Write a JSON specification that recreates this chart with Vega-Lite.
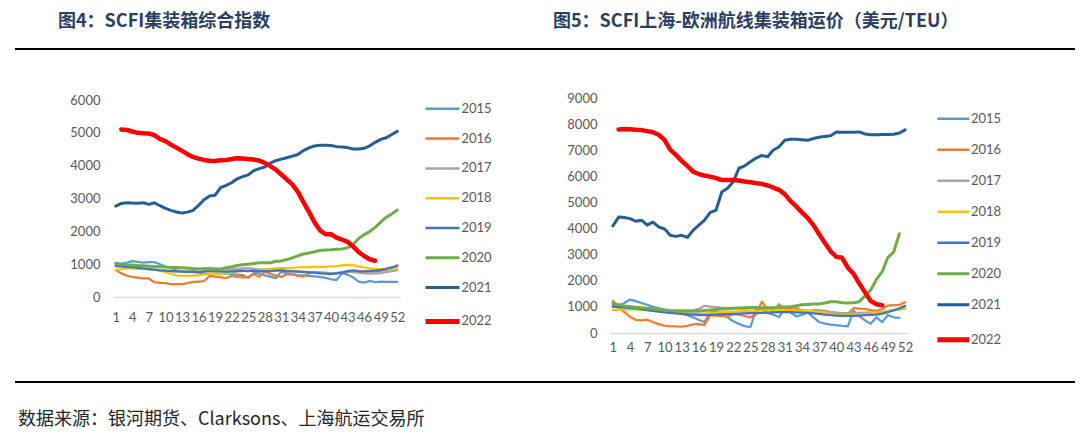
{
"$schema": "https://vega.github.io/schema/vega-lite/v6.json",
"autosize": "none",
"padding": {"left": 15, "top": 48, "right": 1065, "bottom": 386},
"background": "white",
"bounds": "flush",
"columns": 4,
"spacing": {"row": 48, "column": 0},
"config": {"view": {"stroke": null}, "font": "Lato"},
"datasets": {
"scfi": [
{"s":"2015","w":1,"v":1005},{"s":"2015","w":2,"v":1020},{"s":"2015","w":3,"v":1045},{"s":"2015","w":4,"v":1095},{"s":"2015","w":5,"v":1070},{"s":"2015","w":6,"v":1050},{"s":"2015","w":7,"v":1065},{"s":"2015","w":8,"v":1060},{"s":"2015","w":9,"v":1000},{"s":"2015","w":10,"v":930},{"s":"2015","w":11,"v":880},{"s":"2015","w":12,"v":810},{"s":"2015","w":13,"v":790},{"s":"2015","w":14,"v":775},{"s":"2015","w":15,"v":760},{"s":"2015","w":16,"v":740},{"s":"2015","w":17,"v":725},{"s":"2015","w":18,"v":720},{"s":"2015","w":19,"v":720},{"s":"2015","w":20,"v":715},{"s":"2015","w":21,"v":720},{"s":"2015","w":22,"v":700},{"s":"2015","w":23,"v":680},{"s":"2015","w":24,"v":670},{"s":"2015","w":25,"v":580},{"s":"2015","w":26,"v":740},{"s":"2015","w":27,"v":720},{"s":"2015","w":28,"v":660},{"s":"2015","w":29,"v":620},{"s":"2015","w":30,"v":570},{"s":"2015","w":31,"v":770},{"s":"2015","w":32,"v":730},{"s":"2015","w":33,"v":700},{"s":"2015","w":34,"v":670},{"s":"2015","w":35,"v":660},{"s":"2015","w":36,"v":640},{"s":"2015","w":37,"v":630},{"s":"2015","w":38,"v":610},{"s":"2015","w":39,"v":580},{"s":"2015","w":40,"v":540},{"s":"2015","w":41,"v":520},{"s":"2015","w":42,"v":720},{"s":"2015","w":43,"v":680},{"s":"2015","w":44,"v":600},{"s":"2015","w":45,"v":470},{"s":"2015","w":46,"v":440},{"s":"2015","w":47,"v":490},{"s":"2015","w":48,"v":450},{"s":"2015","w":49,"v":470},{"s":"2015","w":50,"v":460},{"s":"2015","w":51,"v":460},{"s":"2015","w":52,"v":460},
{"s":"2016","w":1,"v":820},{"s":"2016","w":2,"v":720},{"s":"2016","w":3,"v":650},{"s":"2016","w":4,"v":610},{"s":"2016","w":5,"v":590},{"s":"2016","w":6,"v":570},{"s":"2016","w":7,"v":565},{"s":"2016","w":8,"v":450},{"s":"2016","w":9,"v":430},{"s":"2016","w":10,"v":420},{"s":"2016","w":11,"v":395},{"s":"2016","w":12,"v":390},{"s":"2016","w":13,"v":395},{"s":"2016","w":14,"v":420},{"s":"2016","w":15,"v":460},{"s":"2016","w":16,"v":470},{"s":"2016","w":17,"v":480},{"s":"2016","w":18,"v":640},{"s":"2016","w":19,"v":620},{"s":"2016","w":20,"v":600},{"s":"2016","w":21,"v":575},{"s":"2016","w":22,"v":640},{"s":"2016","w":23,"v":610},{"s":"2016","w":24,"v":600},{"s":"2016","w":25,"v":610},{"s":"2016","w":26,"v":700},{"s":"2016","w":27,"v":620},{"s":"2016","w":28,"v":770},{"s":"2016","w":29,"v":700},{"s":"2016","w":30,"v":650},{"s":"2016","w":31,"v":610},{"s":"2016","w":32,"v":700},{"s":"2016","w":33,"v":690},{"s":"2016","w":34,"v":640},{"s":"2016","w":35,"v":620},{"s":"2016","w":36,"v":720},{"s":"2016","w":37,"v":760},{"s":"2016","w":38,"v":740},{"s":"2016","w":39,"v":730},{"s":"2016","w":40,"v":720},{"s":"2016","w":41,"v":730},{"s":"2016","w":42,"v":750},{"s":"2016","w":43,"v":760},{"s":"2016","w":44,"v":790},{"s":"2016","w":45,"v":780},{"s":"2016","w":46,"v":770},{"s":"2016","w":47,"v":790},{"s":"2016","w":48,"v":780},{"s":"2016","w":49,"v":800},{"s":"2016","w":50,"v":820},{"s":"2016","w":51,"v":870},{"s":"2016","w":52,"v":930},
{"s":"2017","w":1,"v":960},{"s":"2017","w":2,"v":940},{"s":"2017","w":3,"v":930},{"s":"2017","w":4,"v":900},{"s":"2017","w":5,"v":880},{"s":"2017","w":6,"v":860},{"s":"2017","w":7,"v":850},{"s":"2017","w":8,"v":840},{"s":"2017","w":9,"v":820},{"s":"2017","w":10,"v":800},{"s":"2017","w":11,"v":790},{"s":"2017","w":12,"v":780},{"s":"2017","w":13,"v":790},{"s":"2017","w":14,"v":800},{"s":"2017","w":15,"v":820},{"s":"2017","w":16,"v":840},{"s":"2017","w":17,"v":880},{"s":"2017","w":18,"v":890},{"s":"2017","w":19,"v":870},{"s":"2017","w":20,"v":860},{"s":"2017","w":21,"v":850},{"s":"2017","w":22,"v":840},{"s":"2017","w":23,"v":860},{"s":"2017","w":24,"v":870},{"s":"2017","w":25,"v":880},{"s":"2017","w":26,"v":860},{"s":"2017","w":27,"v":840},{"s":"2017","w":28,"v":850},{"s":"2017","w":29,"v":840},{"s":"2017","w":30,"v":830},{"s":"2017","w":31,"v":820},{"s":"2017","w":32,"v":800},{"s":"2017","w":33,"v":790},{"s":"2017","w":34,"v":780},{"s":"2017","w":35,"v":770},{"s":"2017","w":36,"v":760},{"s":"2017","w":37,"v":760},{"s":"2017","w":38,"v":750},{"s":"2017","w":39,"v":740},{"s":"2017","w":40,"v":730},{"s":"2017","w":41,"v":720},{"s":"2017","w":42,"v":760},{"s":"2017","w":43,"v":790},{"s":"2017","w":44,"v":760},{"s":"2017","w":45,"v":740},{"s":"2017","w":46,"v":720},{"s":"2017","w":47,"v":710},{"s":"2017","w":48,"v":720},{"s":"2017","w":49,"v":730},{"s":"2017","w":50,"v":760},{"s":"2017","w":51,"v":790},{"s":"2017","w":52,"v":820},
{"s":"2018","w":1,"v":830},{"s":"2018","w":2,"v":850},{"s":"2018","w":3,"v":870},{"s":"2018","w":4,"v":870},{"s":"2018","w":5,"v":860},{"s":"2018","w":6,"v":860},{"s":"2018","w":7,"v":850},{"s":"2018","w":8,"v":830},{"s":"2018","w":9,"v":800},{"s":"2018","w":10,"v":760},{"s":"2018","w":11,"v":700},{"s":"2018","w":12,"v":660},{"s":"2018","w":13,"v":650},{"s":"2018","w":14,"v":640},{"s":"2018","w":15,"v":650},{"s":"2018","w":16,"v":660},{"s":"2018","w":17,"v":690},{"s":"2018","w":18,"v":720},{"s":"2018","w":19,"v":710},{"s":"2018","w":20,"v":700},{"s":"2018","w":21,"v":720},{"s":"2018","w":22,"v":740},{"s":"2018","w":23,"v":770},{"s":"2018","w":24,"v":790},{"s":"2018","w":25,"v":800},{"s":"2018","w":26,"v":800},{"s":"2018","w":27,"v":820},{"s":"2018","w":28,"v":850},{"s":"2018","w":29,"v":860},{"s":"2018","w":30,"v":870},{"s":"2018","w":31,"v":880},{"s":"2018","w":32,"v":880},{"s":"2018","w":33,"v":890},{"s":"2018","w":34,"v":900},{"s":"2018","w":35,"v":900},{"s":"2018","w":36,"v":910},{"s":"2018","w":37,"v":915},{"s":"2018","w":38,"v":920},{"s":"2018","w":39,"v":920},{"s":"2018","w":40,"v":930},{"s":"2018","w":41,"v":940},{"s":"2018","w":42,"v":960},{"s":"2018","w":43,"v":980},{"s":"2018","w":44,"v":970},{"s":"2018","w":45,"v":930},{"s":"2018","w":46,"v":900},{"s":"2018","w":47,"v":870},{"s":"2018","w":48,"v":850},{"s":"2018","w":49,"v":850},{"s":"2018","w":50,"v":850},{"s":"2018","w":51,"v":870},{"s":"2018","w":52,"v":900},
{"s":"2019","w":1,"v":940},{"s":"2019","w":2,"v":930},{"s":"2019","w":3,"v":920},{"s":"2019","w":4,"v":910},{"s":"2019","w":5,"v":890},{"s":"2019","w":6,"v":870},{"s":"2019","w":7,"v":850},{"s":"2019","w":8,"v":830},{"s":"2019","w":9,"v":810},{"s":"2019","w":10,"v":800},{"s":"2019","w":11,"v":790},{"s":"2019","w":12,"v":780},{"s":"2019","w":13,"v":770},{"s":"2019","w":14,"v":760},{"s":"2019","w":15,"v":770},{"s":"2019","w":16,"v":760},{"s":"2019","w":17,"v":780},{"s":"2019","w":18,"v":800},{"s":"2019","w":19,"v":790},{"s":"2019","w":20,"v":780},{"s":"2019","w":21,"v":770},{"s":"2019","w":22,"v":780},{"s":"2019","w":23,"v":790},{"s":"2019","w":24,"v":800},{"s":"2019","w":25,"v":790},{"s":"2019","w":26,"v":800},{"s":"2019","w":27,"v":790},{"s":"2019","w":28,"v":790},{"s":"2019","w":29,"v":780},{"s":"2019","w":30,"v":800},{"s":"2019","w":31,"v":810},{"s":"2019","w":32,"v":790},{"s":"2019","w":33,"v":780},{"s":"2019","w":34,"v":770},{"s":"2019","w":35,"v":760},{"s":"2019","w":36,"v":750},{"s":"2019","w":37,"v":740},{"s":"2019","w":38,"v":720},{"s":"2019","w":39,"v":710},{"s":"2019","w":40,"v":700},{"s":"2019","w":41,"v":720},{"s":"2019","w":42,"v":740},{"s":"2019","w":43,"v":790},{"s":"2019","w":44,"v":810},{"s":"2019","w":45,"v":790},{"s":"2019","w":46,"v":780},{"s":"2019","w":47,"v":790},{"s":"2019","w":48,"v":800},{"s":"2019","w":49,"v":820},{"s":"2019","w":50,"v":860},{"s":"2019","w":51,"v":900},{"s":"2019","w":52,"v":960},
{"s":"2020","w":1,"v":1025},{"s":"2020","w":2,"v":1000},{"s":"2020","w":3,"v":985},{"s":"2020","w":4,"v":975},{"s":"2020","w":5,"v":960},{"s":"2020","w":6,"v":950},{"s":"2020","w":7,"v":940},{"s":"2020","w":8,"v":930},{"s":"2020","w":9,"v":920},{"s":"2020","w":10,"v":910},{"s":"2020","w":11,"v":900},{"s":"2020","w":12,"v":895},{"s":"2020","w":13,"v":890},{"s":"2020","w":14,"v":885},{"s":"2020","w":15,"v":870},{"s":"2020","w":16,"v":860},{"s":"2020","w":17,"v":855},{"s":"2020","w":18,"v":850},{"s":"2020","w":19,"v":845},{"s":"2020","w":20,"v":845},{"s":"2020","w":21,"v":890},{"s":"2020","w":22,"v":920},{"s":"2020","w":23,"v":960},{"s":"2020","w":24,"v":985},{"s":"2020","w":25,"v":1000},{"s":"2020","w":26,"v":1020},{"s":"2020","w":27,"v":1045},{"s":"2020","w":28,"v":1040},{"s":"2020","w":29,"v":1045},{"s":"2020","w":30,"v":1090},{"s":"2020","w":31,"v":1100},{"s":"2020","w":32,"v":1140},{"s":"2020","w":33,"v":1190},{"s":"2020","w":34,"v":1250},{"s":"2020","w":35,"v":1310},{"s":"2020","w":36,"v":1340},{"s":"2020","w":37,"v":1380},{"s":"2020","w":38,"v":1420},{"s":"2020","w":39,"v":1430},{"s":"2020","w":40,"v":1440},{"s":"2020","w":41,"v":1455},{"s":"2020","w":42,"v":1465},{"s":"2020","w":43,"v":1500},{"s":"2020","w":44,"v":1600},{"s":"2020","w":45,"v":1780},{"s":"2020","w":46,"v":1900},{"s":"2020","w":47,"v":1990},{"s":"2020","w":48,"v":2120},{"s":"2020","w":49,"v":2280},{"s":"2020","w":50,"v":2430},{"s":"2020","w":51,"v":2530},{"s":"2020","w":52,"v":2650},
{"s":"2021","w":1,"v":2770},{"s":"2021","w":2,"v":2850},{"s":"2021","w":3,"v":2873},{"s":"2021","w":4,"v":2860},{"s":"2021","w":5,"v":2855},{"s":"2021","w":6,"v":2870},{"s":"2021","w":7,"v":2820},{"s":"2021","w":8,"v":2870},{"s":"2021","w":9,"v":2780},{"s":"2021","w":10,"v":2700},{"s":"2021","w":11,"v":2640},{"s":"2021","w":12,"v":2590},{"s":"2021","w":13,"v":2555},{"s":"2021","w":14,"v":2585},{"s":"2021","w":15,"v":2640},{"s":"2021","w":16,"v":2790},{"s":"2021","w":17,"v":2960},{"s":"2021","w":18,"v":3076},{"s":"2021","w":19,"v":3100},{"s":"2021","w":20,"v":3330},{"s":"2021","w":21,"v":3400},{"s":"2021","w":22,"v":3480},{"s":"2021","w":23,"v":3600},{"s":"2021","w":24,"v":3665},{"s":"2021","w":25,"v":3720},{"s":"2021","w":26,"v":3850},{"s":"2021","w":27,"v":3910},{"s":"2021","w":28,"v":3960},{"s":"2021","w":29,"v":4075},{"s":"2021","w":30,"v":4150},{"s":"2021","w":31,"v":4200},{"s":"2021","w":32,"v":4240},{"s":"2021","w":33,"v":4290},{"s":"2021","w":34,"v":4340},{"s":"2021","w":35,"v":4460},{"s":"2021","w":36,"v":4540},{"s":"2021","w":37,"v":4600},{"s":"2021","w":38,"v":4620},{"s":"2021","w":39,"v":4625},{"s":"2021","w":40,"v":4615},{"s":"2021","w":41,"v":4580},{"s":"2021","w":42,"v":4565},{"s":"2021","w":43,"v":4550},{"s":"2021","w":44,"v":4510},{"s":"2021","w":45,"v":4510},{"s":"2021","w":46,"v":4530},{"s":"2021","w":47,"v":4600},{"s":"2021","w":48,"v":4710},{"s":"2021","w":49,"v":4800},{"s":"2021","w":50,"v":4850},{"s":"2021","w":51,"v":4950},{"s":"2021","w":52,"v":5046},
{"s":"2022","w":2,"v":5105},{"s":"2022","w":3,"v":5090},{"s":"2022","w":4,"v":5040},{"s":"2022","w":5,"v":5000},{"s":"2022","w":6,"v":4985},{"s":"2022","w":7,"v":4980},{"s":"2022","w":8,"v":4930},{"s":"2022","w":9,"v":4815},{"s":"2022","w":10,"v":4745},{"s":"2022","w":11,"v":4640},{"s":"2022","w":12,"v":4550},{"s":"2022","w":13,"v":4450},{"s":"2022","w":14,"v":4350},{"s":"2022","w":15,"v":4265},{"s":"2022","w":16,"v":4215},{"s":"2022","w":17,"v":4175},{"s":"2022","w":18,"v":4150},{"s":"2022","w":19,"v":4145},{"s":"2022","w":20,"v":4165},{"s":"2022","w":21,"v":4175},{"s":"2022","w":22,"v":4205},{"s":"2022","w":23,"v":4225},{"s":"2022","w":24,"v":4215},{"s":"2022","w":25,"v":4205},{"s":"2022","w":26,"v":4185},{"s":"2022","w":27,"v":4155},{"s":"2022","w":28,"v":4085},{"s":"2022","w":29,"v":3985},{"s":"2022","w":30,"v":3880},{"s":"2022","w":31,"v":3730},{"s":"2022","w":32,"v":3580},{"s":"2022","w":33,"v":3430},{"s":"2022","w":34,"v":3200},{"s":"2022","w":35,"v":2890},{"s":"2022","w":36,"v":2590},{"s":"2022","w":37,"v":2280},{"s":"2022","w":38,"v":2030},{"s":"2022","w":39,"v":1910},{"s":"2022","w":40,"v":1910},{"s":"2022","w":41,"v":1810},{"s":"2022","w":42,"v":1750},{"s":"2022","w":43,"v":1680},{"s":"2022","w":44,"v":1540},{"s":"2022","w":45,"v":1370},{"s":"2022","w":46,"v":1250},{"s":"2022","w":47,"v":1150},{"s":"2022","w":48,"v":1105}
],
"eu": [
{"s":"2015","w":1,"v":1080},{"s":"2015","w":2,"v":1050},{"s":"2015","w":3,"v":1150},{"s":"2015","w":4,"v":1280},{"s":"2015","w":5,"v":1220},{"s":"2015","w":6,"v":1150},{"s":"2015","w":7,"v":1080},{"s":"2015","w":8,"v":1000},{"s":"2015","w":9,"v":950},{"s":"2015","w":10,"v":900},{"s":"2015","w":11,"v":850},{"s":"2015","w":12,"v":800},{"s":"2015","w":13,"v":750},{"s":"2015","w":14,"v":680},{"s":"2015","w":15,"v":600},{"s":"2015","w":16,"v":500},{"s":"2015","w":17,"v":420},{"s":"2015","w":18,"v":790},{"s":"2015","w":19,"v":800},{"s":"2015","w":20,"v":770},{"s":"2015","w":21,"v":600},{"s":"2015","w":22,"v":450},{"s":"2015","w":23,"v":350},{"s":"2015","w":24,"v":260},{"s":"2015","w":25,"v":220},{"s":"2015","w":26,"v":900},{"s":"2015","w":27,"v":920},{"s":"2015","w":28,"v":760},{"s":"2015","w":29,"v":700},{"s":"2015","w":30,"v":610},{"s":"2015","w":31,"v":950},{"s":"2015","w":32,"v":780},{"s":"2015","w":33,"v":640},{"s":"2015","w":34,"v":690},{"s":"2015","w":35,"v":790},{"s":"2015","w":36,"v":600},{"s":"2015","w":37,"v":420},{"s":"2015","w":38,"v":360},{"s":"2015","w":39,"v":320},{"s":"2015","w":40,"v":300},{"s":"2015","w":41,"v":270},{"s":"2015","w":42,"v":250},{"s":"2015","w":43,"v":850},{"s":"2015","w":44,"v":650},{"s":"2015","w":45,"v":480},{"s":"2015","w":46,"v":350},{"s":"2015","w":47,"v":600},{"s":"2015","w":48,"v":420},{"s":"2015","w":49,"v":690},{"s":"2015","w":50,"v":600},{"s":"2015","w":51,"v":580},
{"s":"2016","w":1,"v":1230},{"s":"2016","w":2,"v":1000},{"s":"2016","w":3,"v":800},{"s":"2016","w":4,"v":620},{"s":"2016","w":5,"v":500},{"s":"2016","w":6,"v":480},{"s":"2016","w":7,"v":510},{"s":"2016","w":8,"v":420},{"s":"2016","w":9,"v":340},{"s":"2016","w":10,"v":280},{"s":"2016","w":11,"v":260},{"s":"2016","w":12,"v":250},{"s":"2016","w":13,"v":245},{"s":"2016","w":14,"v":270},{"s":"2016","w":15,"v":330},{"s":"2016","w":16,"v":340},{"s":"2016","w":17,"v":310},{"s":"2016","w":18,"v":680},{"s":"2016","w":19,"v":670},{"s":"2016","w":20,"v":660},{"s":"2016","w":21,"v":620},{"s":"2016","w":22,"v":720},{"s":"2016","w":23,"v":700},{"s":"2016","w":24,"v":650},{"s":"2016","w":25,"v":600},{"s":"2016","w":26,"v":720},{"s":"2016","w":27,"v":1200},{"s":"2016","w":28,"v":900},{"s":"2016","w":29,"v":820},{"s":"2016","w":30,"v":1100},{"s":"2016","w":31,"v":920},{"s":"2016","w":32,"v":960},{"s":"2016","w":33,"v":980},{"s":"2016","w":34,"v":850},{"s":"2016","w":35,"v":800},{"s":"2016","w":36,"v":880},{"s":"2016","w":37,"v":870},{"s":"2016","w":38,"v":850},{"s":"2016","w":39,"v":800},{"s":"2016","w":40,"v":770},{"s":"2016","w":41,"v":740},{"s":"2016","w":42,"v":730},{"s":"2016","w":43,"v":950},{"s":"2016","w":44,"v":930},{"s":"2016","w":45,"v":920},{"s":"2016","w":46,"v":880},{"s":"2016","w":47,"v":850},{"s":"2016","w":48,"v":920},{"s":"2016","w":49,"v":1050},{"s":"2016","w":50,"v":1070},{"s":"2016","w":51,"v":1080},{"s":"2016","w":52,"v":1180},
{"s":"2017","w":1,"v":1000},{"s":"2017","w":2,"v":980},{"s":"2017","w":3,"v":960},{"s":"2017","w":4,"v":950},{"s":"2017","w":5,"v":940},{"s":"2017","w":6,"v":920},{"s":"2017","w":7,"v":900},{"s":"2017","w":8,"v":880},{"s":"2017","w":9,"v":860},{"s":"2017","w":10,"v":850},{"s":"2017","w":11,"v":840},{"s":"2017","w":12,"v":850},{"s":"2017","w":13,"v":860},{"s":"2017","w":14,"v":870},{"s":"2017","w":15,"v":880},{"s":"2017","w":16,"v":920},{"s":"2017","w":17,"v":1040},{"s":"2017","w":18,"v":1010},{"s":"2017","w":19,"v":990},{"s":"2017","w":20,"v":970},{"s":"2017","w":21,"v":960},{"s":"2017","w":22,"v":950},{"s":"2017","w":23,"v":940},{"s":"2017","w":24,"v":930},{"s":"2017","w":25,"v":960},{"s":"2017","w":26,"v":1000},{"s":"2017","w":27,"v":980},{"s":"2017","w":28,"v":940},{"s":"2017","w":29,"v":920},{"s":"2017","w":30,"v":910},{"s":"2017","w":31,"v":900},{"s":"2017","w":32,"v":890},{"s":"2017","w":33,"v":880},{"s":"2017","w":34,"v":870},{"s":"2017","w":35,"v":860},{"s":"2017","w":36,"v":850},{"s":"2017","w":37,"v":840},{"s":"2017","w":38,"v":820},{"s":"2017","w":39,"v":800},{"s":"2017","w":40,"v":780},{"s":"2017","w":41,"v":760},{"s":"2017","w":42,"v":760},{"s":"2017","w":43,"v":760},{"s":"2017","w":44,"v":770},{"s":"2017","w":45,"v":780},{"s":"2017","w":46,"v":790},{"s":"2017","w":47,"v":800},{"s":"2017","w":48,"v":820},{"s":"2017","w":49,"v":850},{"s":"2017","w":50,"v":870},{"s":"2017","w":51,"v":900},{"s":"2017","w":52,"v":930},
{"s":"2018","w":1,"v":880},{"s":"2018","w":2,"v":890},{"s":"2018","w":3,"v":900},{"s":"2018","w":4,"v":910},{"s":"2018","w":5,"v":900},{"s":"2018","w":6,"v":890},{"s":"2018","w":7,"v":880},{"s":"2018","w":8,"v":860},{"s":"2018","w":9,"v":840},{"s":"2018","w":10,"v":810},{"s":"2018","w":11,"v":780},{"s":"2018","w":12,"v":760},{"s":"2018","w":13,"v":750},{"s":"2018","w":14,"v":740},{"s":"2018","w":15,"v":730},{"s":"2018","w":16,"v":740},{"s":"2018","w":17,"v":750},{"s":"2018","w":18,"v":760},{"s":"2018","w":19,"v":780},{"s":"2018","w":20,"v":800},{"s":"2018","w":21,"v":810},{"s":"2018","w":22,"v":820},{"s":"2018","w":23,"v":830},{"s":"2018","w":24,"v":840},{"s":"2018","w":25,"v":850},{"s":"2018","w":26,"v":860},{"s":"2018","w":27,"v":870},{"s":"2018","w":28,"v":880},{"s":"2018","w":29,"v":890},{"s":"2018","w":30,"v":890},{"s":"2018","w":31,"v":880},{"s":"2018","w":32,"v":870},{"s":"2018","w":33,"v":860},{"s":"2018","w":34,"v":850},{"s":"2018","w":35,"v":840},{"s":"2018","w":36,"v":830},{"s":"2018","w":37,"v":810},{"s":"2018","w":38,"v":780},{"s":"2018","w":39,"v":740},{"s":"2018","w":40,"v":700},{"s":"2018","w":41,"v":690},{"s":"2018","w":42,"v":690},{"s":"2018","w":43,"v":700},{"s":"2018","w":44,"v":720},{"s":"2018","w":45,"v":730},{"s":"2018","w":46,"v":750},{"s":"2018","w":47,"v":780},{"s":"2018","w":48,"v":800},{"s":"2018","w":49,"v":840},{"s":"2018","w":50,"v":870},{"s":"2018","w":51,"v":900},{"s":"2018","w":52,"v":950},
{"s":"2019","w":1,"v":1010},{"s":"2019","w":2,"v":1000},{"s":"2019","w":3,"v":980},{"s":"2019","w":4,"v":960},{"s":"2019","w":5,"v":940},{"s":"2019","w":6,"v":910},{"s":"2019","w":7,"v":880},{"s":"2019","w":8,"v":850},{"s":"2019","w":9,"v":820},{"s":"2019","w":10,"v":790},{"s":"2019","w":11,"v":770},{"s":"2019","w":12,"v":750},{"s":"2019","w":13,"v":730},{"s":"2019","w":14,"v":710},{"s":"2019","w":15,"v":700},{"s":"2019","w":16,"v":690},{"s":"2019","w":17,"v":680},{"s":"2019","w":18,"v":690},{"s":"2019","w":19,"v":700},{"s":"2019","w":20,"v":710},{"s":"2019","w":21,"v":720},{"s":"2019","w":22,"v":730},{"s":"2019","w":23,"v":740},{"s":"2019","w":24,"v":750},{"s":"2019","w":25,"v":760},{"s":"2019","w":26,"v":760},{"s":"2019","w":27,"v":770},{"s":"2019","w":28,"v":780},{"s":"2019","w":29,"v":790},{"s":"2019","w":30,"v":800},{"s":"2019","w":31,"v":800},{"s":"2019","w":32,"v":800},{"s":"2019","w":33,"v":790},{"s":"2019","w":34,"v":780},{"s":"2019","w":35,"v":770},{"s":"2019","w":36,"v":750},{"s":"2019","w":37,"v":730},{"s":"2019","w":38,"v":700},{"s":"2019","w":39,"v":680},{"s":"2019","w":40,"v":670},{"s":"2019","w":41,"v":660},{"s":"2019","w":42,"v":660},{"s":"2019","w":43,"v":660},{"s":"2019","w":44,"v":670},{"s":"2019","w":45,"v":680},{"s":"2019","w":46,"v":690},{"s":"2019","w":47,"v":700},{"s":"2019","w":48,"v":740},{"s":"2019","w":49,"v":800},{"s":"2019","w":50,"v":870},{"s":"2019","w":51,"v":950},{"s":"2019","w":52,"v":1040},
{"s":"2020","w":1,"v":1130},{"s":"2020","w":2,"v":1080},{"s":"2020","w":3,"v":1030},{"s":"2020","w":4,"v":1010},{"s":"2020","w":5,"v":990},{"s":"2020","w":6,"v":970},{"s":"2020","w":7,"v":950},{"s":"2020","w":8,"v":925},{"s":"2020","w":9,"v":905},{"s":"2020","w":10,"v":880},{"s":"2020","w":11,"v":860},{"s":"2020","w":12,"v":850},{"s":"2020","w":13,"v":840},{"s":"2020","w":14,"v":830},{"s":"2020","w":15,"v":835},{"s":"2020","w":16,"v":845},{"s":"2020","w":17,"v":865},{"s":"2020","w":18,"v":880},{"s":"2020","w":19,"v":900},{"s":"2020","w":20,"v":920},{"s":"2020","w":21,"v":930},{"s":"2020","w":22,"v":950},{"s":"2020","w":23,"v":960},{"s":"2020","w":24,"v":970},{"s":"2020","w":25,"v":980},{"s":"2020","w":26,"v":970},{"s":"2020","w":27,"v":960},{"s":"2020","w":28,"v":965},{"s":"2020","w":29,"v":965},{"s":"2020","w":30,"v":980},{"s":"2020","w":31,"v":1000},{"s":"2020","w":32,"v":1010},{"s":"2020","w":33,"v":1040},{"s":"2020","w":34,"v":1080},{"s":"2020","w":35,"v":1095},{"s":"2020","w":36,"v":1110},{"s":"2020","w":37,"v":1115},{"s":"2020","w":38,"v":1150},{"s":"2020","w":39,"v":1200},{"s":"2020","w":40,"v":1200},{"s":"2020","w":41,"v":1160},{"s":"2020","w":42,"v":1150},{"s":"2020","w":43,"v":1160},{"s":"2020","w":44,"v":1200},{"s":"2020","w":45,"v":1420},{"s":"2020","w":46,"v":1650},{"s":"2020","w":47,"v":2050},{"s":"2020","w":48,"v":2350},{"s":"2020","w":49,"v":2900},{"s":"2020","w":50,"v":3100},{"s":"2020","w":51,"v":3800},
{"s":"2021","w":1,"v":4100},{"s":"2021","w":2,"v":4440},{"s":"2021","w":3,"v":4420},{"s":"2021","w":4,"v":4380},{"s":"2021","w":5,"v":4280},{"s":"2021","w":6,"v":4320},{"s":"2021","w":7,"v":4130},{"s":"2021","w":8,"v":4250},{"s":"2021","w":9,"v":4060},{"s":"2021","w":10,"v":3990},{"s":"2021","w":11,"v":3740},{"s":"2021","w":12,"v":3700},{"s":"2021","w":13,"v":3740},{"s":"2021","w":14,"v":3660},{"s":"2021","w":15,"v":3930},{"s":"2021","w":16,"v":4130},{"s":"2021","w":17,"v":4320},{"s":"2021","w":18,"v":4620},{"s":"2021","w":19,"v":4700},{"s":"2021","w":20,"v":5400},{"s":"2021","w":21,"v":5540},{"s":"2021","w":22,"v":5790},{"s":"2021","w":23,"v":6310},{"s":"2021","w":24,"v":6400},{"s":"2021","w":25,"v":6560},{"s":"2021","w":26,"v":6700},{"s":"2021","w":27,"v":6800},{"s":"2021","w":28,"v":6750},{"s":"2021","w":29,"v":7010},{"s":"2021","w":30,"v":7130},{"s":"2021","w":31,"v":7380},{"s":"2021","w":32,"v":7420},{"s":"2021","w":33,"v":7420},{"s":"2021","w":34,"v":7400},{"s":"2021","w":35,"v":7380},{"s":"2021","w":36,"v":7450},{"s":"2021","w":37,"v":7500},{"s":"2021","w":38,"v":7530},{"s":"2021","w":39,"v":7550},{"s":"2021","w":40,"v":7700},{"s":"2021","w":41,"v":7690},{"s":"2021","w":42,"v":7690},{"s":"2021","w":43,"v":7690},{"s":"2021","w":44,"v":7700},{"s":"2021","w":45,"v":7620},{"s":"2021","w":46,"v":7590},{"s":"2021","w":47,"v":7590},{"s":"2021","w":48,"v":7600},{"s":"2021","w":49,"v":7600},{"s":"2021","w":50,"v":7610},{"s":"2021","w":51,"v":7660},{"s":"2021","w":52,"v":7780},
{"s":"2022","w":2,"v":7790},{"s":"2022","w":3,"v":7815},{"s":"2022","w":4,"v":7805},{"s":"2022","w":5,"v":7785},{"s":"2022","w":6,"v":7770},{"s":"2022","w":7,"v":7730},{"s":"2022","w":8,"v":7690},{"s":"2022","w":9,"v":7590},{"s":"2022","w":10,"v":7400},{"s":"2022","w":11,"v":7020},{"s":"2022","w":12,"v":6820},{"s":"2022","w":13,"v":6590},{"s":"2022","w":14,"v":6400},{"s":"2022","w":15,"v":6180},{"s":"2022","w":16,"v":6090},{"s":"2022","w":17,"v":6030},{"s":"2022","w":18,"v":5990},{"s":"2022","w":19,"v":5930},{"s":"2022","w":20,"v":5860},{"s":"2022","w":21,"v":5860},{"s":"2022","w":22,"v":5860},{"s":"2022","w":23,"v":5840},{"s":"2022","w":24,"v":5800},{"s":"2022","w":25,"v":5770},{"s":"2022","w":26,"v":5740},{"s":"2022","w":27,"v":5710},{"s":"2022","w":28,"v":5650},{"s":"2022","w":29,"v":5570},{"s":"2022","w":30,"v":5480},{"s":"2022","w":31,"v":5320},{"s":"2022","w":32,"v":5050},{"s":"2022","w":33,"v":4850},{"s":"2022","w":34,"v":4620},{"s":"2022","w":35,"v":4400},{"s":"2022","w":36,"v":4130},{"s":"2022","w":37,"v":3780},{"s":"2022","w":38,"v":3450},{"s":"2022","w":39,"v":3130},{"s":"2022","w":40,"v":2920},{"s":"2022","w":41,"v":2880},{"s":"2022","w":42,"v":2500},{"s":"2022","w":43,"v":2270},{"s":"2022","w":44,"v":1900},{"s":"2022","w":45,"v":1560},{"s":"2022","w":46,"v":1230},{"s":"2022","w":47,"v":1100},{"s":"2022","w":48,"v":1060}
]
},
"concat": [
{"width": 98, "height": 2, "view": {"fill": "#000000", "stroke": null}, "data": {"values": [{}]}, "mark": {"type": "text"}, "encoding": {"text": {"value": ""}}},
{"width": 287, "height": 2, "view": {"fill": "#000000", "stroke": null}, "data": {"values": [{}]}, "mark": {"type": "text"}, "encoding": {"text": {"value": ""}}},
{"width": 210, "height": 2, "view": {"fill": "#000000", "stroke": null}, "data": {"values": [{}]}, "mark": {"type": "text"}, "encoding": {"text": {"value": ""}}},
{"width": 465, "height": 2, "view": {"fill": "#000000", "stroke": null}, "data": {"values": [{}]}, "mark": {"type": "text"}, "encoding": {"text": {"value": ""}}},
{"width": 98, "height": 235, "data": {"values": [{}]}, "mark": {"type": "text"}, "encoding": {"text": {"value": ""}}},
{"width": 287, "height": 235,
  "title": {"text": "图4：SCFI集装箱综合指数", "anchor": "start", "frame": "group", "dx": -55, "offset": 63, "font": "Noto Sans CJK SC", "fontSize": 18, "fontWeight": "bold", "color": "#2b3f63"},
  "data": {"name": "scfi"},
  "mark": {"type": "line", "strokeCap": "round", "strokeJoin": "round"},
  "encoding": {
   "x": {"field": "w", "type": "ordinal", "scale": {"padding": 0.5},
         "axis": {"values": [1,4,7,10,13,16,19,22,25,28,31,34,37,40,43,46,49,52], "offset": -36, "title": null, "labelAngle": 0, "labelOverlap": false, "labelBound": false, "labelFlush": false, "ticks": false, "domainColor": "#d9d9d9", "domainWidth": 1.5, "labelPadding": 14, "labelFont": "Lato", "labelFontSize": 13, "labelColor": "#595959", "grid": false}},
   "y": {"field": "v", "type": "quantitative", "scale": {"domain": [-1096.4, 6061], "nice": false, "zero": false},
         "axis": {"values": [0,1000,2000,3000,4000,5000,6000], "format": "d", "title": null, "domain": false, "ticks": false, "grid": false, "labelPadding": 13, "labelFont": "Lato", "labelFontSize": 13, "labelColor": "#595959"}},
   "color": {"field": "s", "type": "nominal",
      "scale": {"domain": ["2015","2016","2017","2018","2019","2020","2021","2022"], "range": ["#5B9BD5","#ED7D31","#A5A5A5","#FFC000","#4472C4","#70AD47","#255E91","#FF0000"]},
      "legend": {"orient": "none", "legendX": 316, "legendY": 4.3, "title": null, "padding": 0, "symbolType": "M-1,0H2.4", "symbolSize": 400, "symbolStrokeWidth": 2.5, "labelOffset": 19.5, "rowPadding": 15.8, "labelFont": "Lato", "labelFontSize": 13, "labelColor": "#595959",
        "encode": {"symbols": {"update": {"strokeWidth": {"signal": "datum.value === '2022' ? 5 : (datum.value === '2020' || datum.value === '2021') ? 3 : 2.5"}}}}}},
   "strokeWidth": {"condition": [{"test": "datum.s === '2022'", "value": 4.5}, {"test": "datum.s === '2020' || datum.s === '2021'", "value": 3}], "value": 2.25}
  }
},
{"width": 210, "height": 235, "data": {"values": [{}]}, "mark": {"type": "text"}, "encoding": {"text": {"value": ""}}},
{"width": 298, "height": 235,
  "title": {"text": "图5：SCFI上海-欧洲航线集装箱运价（美元/TEU）", "anchor": "start", "frame": "group", "dx": -57, "offset": 61, "font": "Noto Sans CJK SC", "fontSize": 18, "fontWeight": "bold", "color": "#2b3f63"},
  "data": {"name": "eu"},
  "mark": {"type": "line", "strokeCap": "round", "strokeJoin": "round"},
  "encoding": {
   "x": {"field": "w", "type": "ordinal", "scale": {"padding": 0.5},
         "axis": {"values": [1,4,7,10,13,16,19,22,25,28,31,34,37,40,43,46,49,52], "title": null, "labelAngle": 0, "labelOverlap": false, "labelBound": false, "labelFlush": false, "ticks": false, "domainColor": "#d9d9d9", "domainWidth": 1.5, "labelPadding": 8, "labelFont": "Lato", "labelFontSize": 13, "labelColor": "#595959", "grid": false}},
   "y": {"field": "v", "type": "quantitative", "scale": {"domain": [0, 9000], "nice": false, "zero": true},
         "axis": {"values": [0,1000,2000,3000,4000,5000,6000,7000,8000,9000], "format": "d", "title": null, "domain": false, "ticks": false, "grid": false, "labelPadding": 13, "labelFont": "Lato", "labelFontSize": 13, "labelColor": "#595959"}},
   "color": {"field": "s", "type": "nominal",
      "scale": {"domain": ["2015","2016","2017","2018","2019","2020","2021","2022"], "range": ["#5B9BD5","#ED7D31","#A5A5A5","#FFC000","#4472C4","#70AD47","#255E91","#FF0000"]},
      "legend": {"orient": "none", "legendX": 330.3, "legendY": 14.3, "title": null, "padding": 0, "symbolType": "M-1,0H2.4", "symbolSize": 354, "symbolStrokeWidth": 2.5, "labelOffset": 17.6, "rowPadding": 17, "labelFont": "Lato", "labelFontSize": 13, "labelColor": "#595959",
        "encode": {"symbols": {"update": {"strokeWidth": {"signal": "datum.value === '2022' ? 5 : (datum.value === '2020' || datum.value === '2021') ? 3 : 2.5"}}}}}},
   "strokeWidth": {"condition": [{"test": "datum.s === '2022'", "value": 4.5}, {"test": "datum.s === '2020' || datum.s === '2021'", "value": 3}], "value": 2.25}
  }
},
{"width": 98, "height": 2, "view": {"fill": "#000000", "stroke": null},
 "title": {"text": "数据来源：银河期货、Clarksons、上海航运交易所", "orient": "bottom", "anchor": "start", "frame": "group", "dx": 3, "offset": 24, "font": "Noto Sans CJK SC", "fontSize": 18, "fontWeight": "normal", "color": "#262626"},
 "data": {"values": [{}]}, "mark": {"type": "text"}, "encoding": {"text": {"value": ""}}},
{"width": 287, "height": 2, "view": {"fill": "#000000", "stroke": null}, "data": {"values": [{}]}, "mark": {"type": "text"}, "encoding": {"text": {"value": ""}}},
{"width": 210, "height": 2, "view": {"fill": "#000000", "stroke": null}, "data": {"values": [{}]}, "mark": {"type": "text"}, "encoding": {"text": {"value": ""}}},
{"width": 465, "height": 2, "view": {"fill": "#000000", "stroke": null}, "data": {"values": [{}]}, "mark": {"type": "text"}, "encoding": {"text": {"value": ""}}}
],
"resolve": {"scale": {"color": "independent", "x": "independent", "y": "independent"}, "legend": {"color": "independent"}, "axis": {"x": "independent", "y": "independent"}}
}
